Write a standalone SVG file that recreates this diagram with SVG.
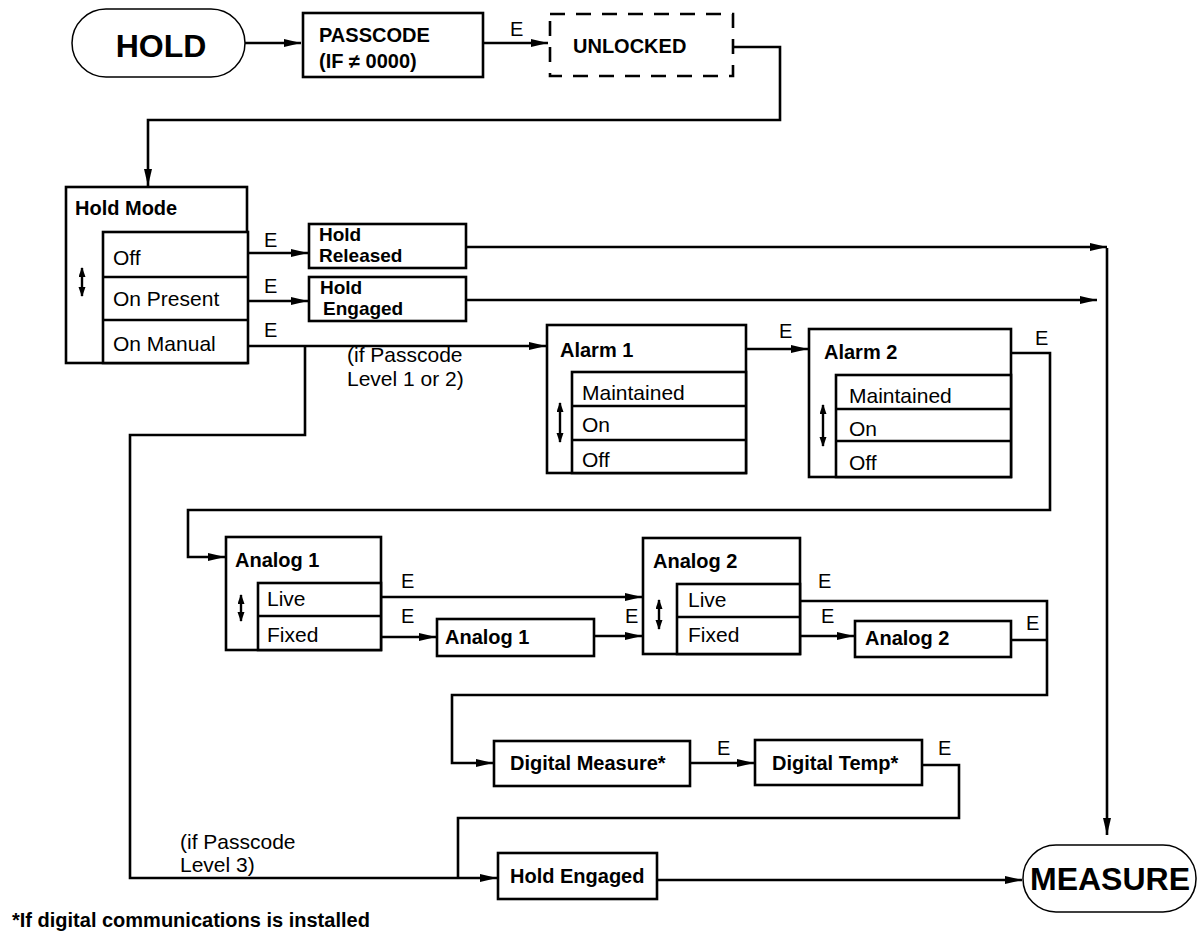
<svg xmlns="http://www.w3.org/2000/svg" width="1198" height="932" viewBox="0 0 1198 932">
<style>
.box{fill:#fff;stroke:#000;stroke-width:2.6}
.dash{fill:#fff;stroke:#000;stroke-width:2.6;stroke-dasharray:15 11}
.term{fill:#fff;stroke:#000;stroke-width:1.5}
.wire{fill:none;stroke:#000;stroke-width:2.6}
.ud{fill:none;stroke:#000;stroke-width:2.4}
text{font-family:"Liberation Sans",Arial,Helvetica,sans-serif;fill:#000}
.b{font-weight:bold;font-size:20px}
.b2{font-weight:bold;font-size:19px}
.r{font-size:21px}
.e{font-size:20px}
.big{font-weight:bold;font-size:32px}
</style>
<defs>
<marker id="ah" markerUnits="userSpaceOnUse" markerWidth="18" markerHeight="10" refX="17" refY="4" orient="auto"><path d="M0,0 L17,4 L0,8 Z" fill="#000"/></marker>
<marker id="uh" markerUnits="userSpaceOnUse" markerWidth="11" markerHeight="8" refX="9" refY="3.5" orient="auto-start-reverse"><path d="M0,0 L10,3.5 L0,7 Z" fill="#000"/></marker>
</defs>
<rect width="1198" height="932" fill="#fff"/>

<g id="connectors">
<path class="wire" d="M245,43 H301" marker-end="url(#ah)"/>
<path class="wire" d="M483,43 H548" marker-end="url(#ah)"/>
<path class="wire" d="M733,47 H780 V120 H148 V186" marker-end="url(#ah)"/>
<path class="wire" d="M248,253 H308" marker-end="url(#ah)"/>
<path class="wire" d="M248,301 H308" marker-end="url(#ah)"/>
<path class="wire" d="M466,247 H1107" marker-end="url(#ah)"/>
<path class="wire" d="M466,300 H1097" marker-end="url(#ah)"/>
<path class="wire" d="M1107,248 V835" marker-end="url(#ah)"/>
<path class="wire" d="M248,346 H546" marker-end="url(#ah)"/>
<path class="wire" d="M305,346 V435 H130 V878 H497" marker-end="url(#ah)"/>
<path class="wire" d="M746,349 H808" marker-end="url(#ah)"/>
<path class="wire" d="M1011,353 H1050 V510 H188 V557 H225" marker-end="url(#ah)"/>
<path class="wire" d="M381,597 H642" marker-end="url(#ah)"/>
<path class="wire" d="M381,637 H436" marker-end="url(#ah)"/>
<path class="wire" d="M594,636 H642" marker-end="url(#ah)"/>
<path class="wire" d="M800,601 H1047 V695 H452 V763 H493" marker-end="url(#ah)"/>
<path class="wire" d="M800,636 H854" marker-end="url(#ah)"/>
<path class="wire" d="M1011,640 H1047"/>
<path class="wire" d="M690,763 H754" marker-end="url(#ah)"/>
<path class="wire" d="M922,765 H959 V818 H458 V878"/>
<path class="wire" d="M657,880 H1022" marker-end="url(#ah)"/>
<text class="e" x="510" y="36">E</text>
<text class="e" x="264" y="247">E</text>
<text class="e" x="264" y="293">E</text>
<text class="e" x="264" y="337">E</text>
<text class="e" x="779" y="338">E</text>
<text class="e" x="1035" y="345">E</text>
<text class="e" x="401" y="588">E</text>
<text class="e" x="401" y="623">E</text>
<text class="e" x="625" y="623">E</text>
<text class="e" x="818" y="588">E</text>
<text class="e" x="821" y="623">E</text>
<text class="e" x="1026" y="630">E</text>
<text class="e" x="717" y="755">E</text>
<text class="e" x="938" y="755">E</text>
<text class="r" x="347" y="362">(if Passcode</text>
<text class="r" x="347" y="386">Level 1 or 2)</text>
<text class="r" x="180" y="849">(if Passcode</text>
<text class="r" x="180" y="872">Level 3)</text>
</g>

<g id="hold">
<rect class="term" x="72" y="9" width="173" height="68" rx="34" ry="34"/>
<text class="big" x="161" y="57" text-anchor="middle">HOLD</text>
</g>
<g id="passcode">
<rect class="box" x="303" y="13" width="180" height="64"/>
<text class="b" x="319" y="42">PASSCODE</text>
<text class="b" x="319" y="68">(IF ≠ 0000)</text>
</g>
<g id="unlocked">
<rect class="dash" x="550" y="14" width="183" height="62"/>
<text class="b" x="573" y="53">UNLOCKED</text>
</g>

<g id="hold-mode">
<rect class="box" x="66" y="187" width="181" height="176"/>
<rect class="box" x="103" y="232" width="145" height="131"/>
<line class="box" x1="103" y1="277" x2="248" y2="277"/>
<line class="box" x1="103" y1="320" x2="248" y2="320"/>
<text class="b" x="75" y="215">Hold Mode</text>
<text class="r" x="113" y="265">Off</text>
<text class="r" x="113" y="306">On Present</text>
<text class="r" x="113" y="351">On Manual</text>
<line class="ud" x1="82" y1="268" x2="82" y2="296" marker-start="url(#uh)" marker-end="url(#uh)"/>
</g>

<g id="hold-released">
<rect class="box" x="309" y="224" width="157" height="44"/>
<text class="b2" x="319" y="241">Hold</text>
<text class="b2" x="319" y="262">Released</text>
</g>
<g id="hold-engaged-1">
<rect class="box" x="309" y="277" width="157" height="44"/>
<text class="b2" x="320" y="294">Hold</text>
<text class="b2" x="323" y="315">Engaged</text>
</g>

<g id="alarm1">
<rect class="box" x="547" y="325" width="199" height="148"/>
<rect class="box" x="572" y="372" width="174" height="101"/>
<line class="box" x1="572" y1="406" x2="746" y2="406"/>
<line class="box" x1="572" y1="440" x2="746" y2="440"/>
<text class="b" x="560" y="357">Alarm 1</text>
<text class="r" x="582" y="400">Maintained</text>
<text class="r" x="582" y="432">On</text>
<text class="r" x="582" y="467">Off</text>
<line class="ud" x1="560" y1="403" x2="560" y2="442" marker-start="url(#uh)" marker-end="url(#uh)"/>
</g>

<g id="alarm2">
<rect class="box" x="809" y="329" width="202" height="148"/>
<rect class="box" x="836" y="375" width="175" height="102"/>
<line class="box" x1="836" y1="409" x2="1011" y2="409"/>
<line class="box" x1="836" y1="441" x2="1011" y2="441"/>
<text class="b" x="824" y="359">Alarm 2</text>
<text class="r" x="849" y="403">Maintained</text>
<text class="r" x="849" y="436">On</text>
<text class="r" x="849" y="470">Off</text>
<line class="ud" x1="823" y1="405" x2="823" y2="446" marker-start="url(#uh)" marker-end="url(#uh)"/>
</g>

<g id="analog1">
<rect class="box" x="226" y="537" width="155" height="113"/>
<rect class="box" x="258" y="583" width="123" height="67"/>
<line class="box" x1="258" y1="616" x2="381" y2="616"/>
<text class="b" x="235" y="567">Analog 1</text>
<text class="r" x="267" y="606">Live</text>
<text class="r" x="267" y="642">Fixed</text>
<line class="ud" x1="241" y1="595" x2="241" y2="621" marker-start="url(#uh)" marker-end="url(#uh)"/>
</g>
<g id="analog1-fixed">
<rect class="box" x="437" y="619" width="157" height="37"/>
<text class="b" x="445" y="644">Analog 1</text>
</g>

<g id="analog2">
<rect class="box" x="643" y="538" width="157" height="116"/>
<rect class="box" x="677" y="584" width="123" height="70"/>
<line class="box" x1="677" y1="617" x2="800" y2="617"/>
<text class="b" x="653" y="568">Analog 2</text>
<text class="r" x="688" y="607">Live</text>
<text class="r" x="688" y="642">Fixed</text>
<line class="ud" x1="659" y1="600" x2="659" y2="629" marker-start="url(#uh)" marker-end="url(#uh)"/>
</g>
<g id="analog2-fixed">
<rect class="box" x="855" y="621" width="156" height="36"/>
<text class="b" x="865" y="645">Analog 2</text>
</g>

<g id="digital-measure">
<rect class="box" x="494" y="741" width="196" height="45"/>
<text class="b" x="510" y="770">Digital Measure*</text>
</g>
<g id="digital-temp">
<rect class="box" x="755" y="740" width="167" height="45"/>
<text class="b" x="772" y="770">Digital Temp*</text>
</g>
<g id="hold-engaged-2">
<rect class="box" x="498" y="853" width="159" height="46"/>
<text class="b" x="510" y="883">Hold Engaged</text>
</g>
<g id="measure">
<rect class="term" x="1023" y="845" width="173" height="67" rx="33" ry="33"/>
<text class="big" x="1110" y="890" text-anchor="middle">MEASURE</text>
</g>

<g id="footnote">
<text class="b" x="12" y="927">*If digital communications is installed</text>
</g>
</svg>
